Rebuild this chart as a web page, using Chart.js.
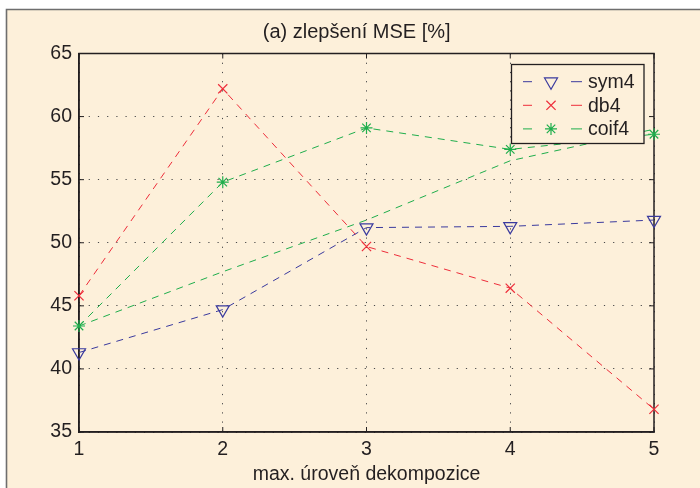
<!DOCTYPE html>
<html>
<head>
<meta charset="utf-8">
<script src="https://cdn.jsdelivr.net/npm/chart.js@4.4.0/dist/chart.umd.min.js"></script>
<style>
  html, body { margin: 0; padding: 0; background: #fff; }
</style>
</head>
<body>
<canvas id="mseChart" width="700" height="488"></canvas>
<script>
// Data
const levels = [1, 2, 3, 4, 5];
const yTicks = [35, 40, 45, 50, 55, 60, 65];
const seriesNames = ['sym4', 'db4', 'coif4'];
const sym4 = [41.3, 44.7, 51.2, 51.3, 51.8];
const db4 = [45.8, 62.2, 49.7, 46.4, 36.8];
const coif4 = [43.4, 54.8, 59.1, 57.4, 58.6];
const coif4Extra = [43.4, 47.7, 51.8, 56.5, 59.0]; // unmarked green dashed line

const chartTitle = '(a) zlepšení MSE [%]';
const xTitle = 'max. úroveň dekompozice';

const cream = '#fdf0da';
const ink = '#231f20';
const blue = '#3a3a9e';
const red = '#ee2d3a';
const green = '#1fae4c';
const textFont = '"Liberation Sans", Arial, Helvetica, sans-serif';

Chart.defaults.font.family = textFont;

/* ------------------ PLUGINS ------------------ */
const paper = {
    id: 'paper',
    beforeDraw(chart) {
        const ctx = chart.ctx;
        ctx.save();
        ctx.fillStyle = '#fff';
        ctx.fillRect(0, 0, chart.width, chart.height);
        ctx.fillStyle = cream;
        ctx.fillRect(7, 10, chart.width - 7, chart.height - 10);
        ctx.strokeStyle = '#6e6e6e';
        ctx.lineWidth = 1.6;
        ctx.beginPath();
        ctx.moveTo(6.5, chart.height);
        ctx.lineTo(6.5, 9.5);
        ctx.lineTo(chart.width, 9.5);
        ctx.stroke();
        // title sits a bit left of the plot centre in the original
        ctx.fillStyle = ink;
        ctx.font = '20px ' + textFont;
        ctx.textAlign = 'center';
        ctx.textBaseline = 'middle';
        ctx.fillText(chartTitle, 356.7, 32.5);
        ctx.restore();
    }
};

// box around axes + inward tick marks on all four sides
const axesBox = {
    id: 'axesBox',
    beforeDatasetsDraw(chart) {
        const { ctx, chartArea: a, scales: { x, y } } = chart;
        ctx.save();
        ctx.strokeStyle = ink;
        ctx.lineWidth = 1.5;
        ctx.strokeRect(a.left, a.top, a.right - a.left, a.bottom - a.top);
        ctx.lineWidth = 1;
        ctx.beginPath();
        x.ticks.forEach((t, i) => {
            const px = x.getPixelForTick(i);
            ctx.moveTo(px, a.top); ctx.lineTo(px, a.top + 5);
            ctx.moveTo(px, a.bottom); ctx.lineTo(px, a.bottom - 5);
        });
        y.ticks.forEach(t => {
            const py = y.getPixelForValue(t.value);
            ctx.moveTo(a.left, py); ctx.lineTo(a.left + 5, py);
            ctx.moveTo(a.right, py); ctx.lineTo(a.right - 5, py);
        });
        ctx.stroke();
        ctx.restore();
    }
};

// matlab-like legend: dash, marker, dash, label, inside a box
const boxLegend = {
    id: 'boxLegend',
    afterDraw(chart) {
        const ctx = chart.ctx;
        const x0 = 511.5, y0 = 64.5, w = 132.5, h = 79;
        ctx.save();
        ctx.fillStyle = cream;
        ctx.fillRect(x0, y0, w, h);
        ctx.strokeStyle = ink;
        ctx.lineWidth = 1.3;
        ctx.strokeRect(x0, y0, w, h);
        seriesNames.forEach((name, i) => {
            const ds = chart.data.datasets[i];
            const cy = 81.7 + i * 23.6;
            ctx.strokeStyle = ds.borderColor;
            ctx.lineWidth = 1;
            ctx.beginPath();
            ctx.moveTo(523, cy); ctx.lineTo(532, cy);
            ctx.moveTo(571, cy); ctx.lineTo(582, cy);
            ctx.stroke();
            if (Chart.helpers && Chart.helpers.drawPoint) {
                ctx.fillStyle = 'rgba(0,0,0,0)';
                ctx.lineWidth = ds.pointBorderWidth;
                Chart.helpers.drawPoint(ctx, {
                    pointStyle: ds.pointStyle,
                    rotation: ds.pointRotation || 0,
                    radius: ds.pointRadius,
                    borderWidth: ds.pointBorderWidth
                }, 551, cy);
            }
            ctx.fillStyle = ink;
            ctx.font = '19.5px ' + textFont;
            ctx.textBaseline = 'middle';
            ctx.textAlign = 'left';
            ctx.fillText(name, 588, cy + 1);
        });
        ctx.restore();
    }
};

/* ------------------ CHART ------------------ */
function lineSet(label, data, color, pointStyle, radius, rotation, order) {
    return {
        label: label,
        data: data,
        borderColor: color,
        backgroundColor: color,
        borderWidth: 1,
        borderDash: [7, 6],
        fill: false,
        tension: 0,
        pointStyle: pointStyle,
        pointRadius: radius,
        pointRotation: rotation,
        pointBorderWidth: 1.2,
        pointBorderColor: color,
        pointBackgroundColor: 'rgba(0,0,0,0)',
        clip: false,
        order: order
    };
}

const gridOpts = { color: '#4a4a4a', lineWidth: 1, drawTicks: false };
const borderOpts = { display: true, color: ink, width: 1.5, dash: [1.2, 8] };

new Chart(document.getElementById('mseChart'), {
    type: 'line',
    data: {
        labels: levels,
        datasets: [
            lineSet(seriesNames[0], sym4, blue, 'triangle', 7.5, 180, 3),
            lineSet(seriesNames[1], db4, red, 'crossRot', 6.5, 0, 2),
            lineSet(seriesNames[2], coif4, green, 'star', 6, 0, 1),
            lineSet('', coif4Extra, green, false, 0, 0, 4)
        ]
    },
    options: {
        responsive: false,
        animation: false,
        devicePixelRatio: 1,
        layout: { padding: { left: 0, right: 46, top: 53.5, bottom: 0 } },
        scales: {
            x: {
                type: 'category',
                offset: false,
                ticks: { padding: 6, color: ink, font: { size: 19.5 }, maxRotation: 0 },
                grid: gridOpts,
                border: borderOpts,
                title: {
                    display: true,
                    text: xTitle,
                    color: ink,
                    font: { size: 19.5 },
                    padding: { top: 0, bottom: 2 }
                },
                afterFit: s => { s.height = 56; }
            },
            y: {
                min: 35,
                max: 65,
                afterBuildTicks: s => { s.ticks = yTicks.map(v => ({ value: v })); },
                ticks: { padding: 7, color: ink, font: { size: 19.5 } },
                grid: gridOpts,
                border: borderOpts,
                afterFit: s => { s.width = 79; }
            }
        },
        plugins: {
            legend: { display: false },
            tooltip: { enabled: false },
            title: { display: false }
        }
    },
    plugins: [paper, axesBox, boxLegend]
});
</script>
</body>
</html>
